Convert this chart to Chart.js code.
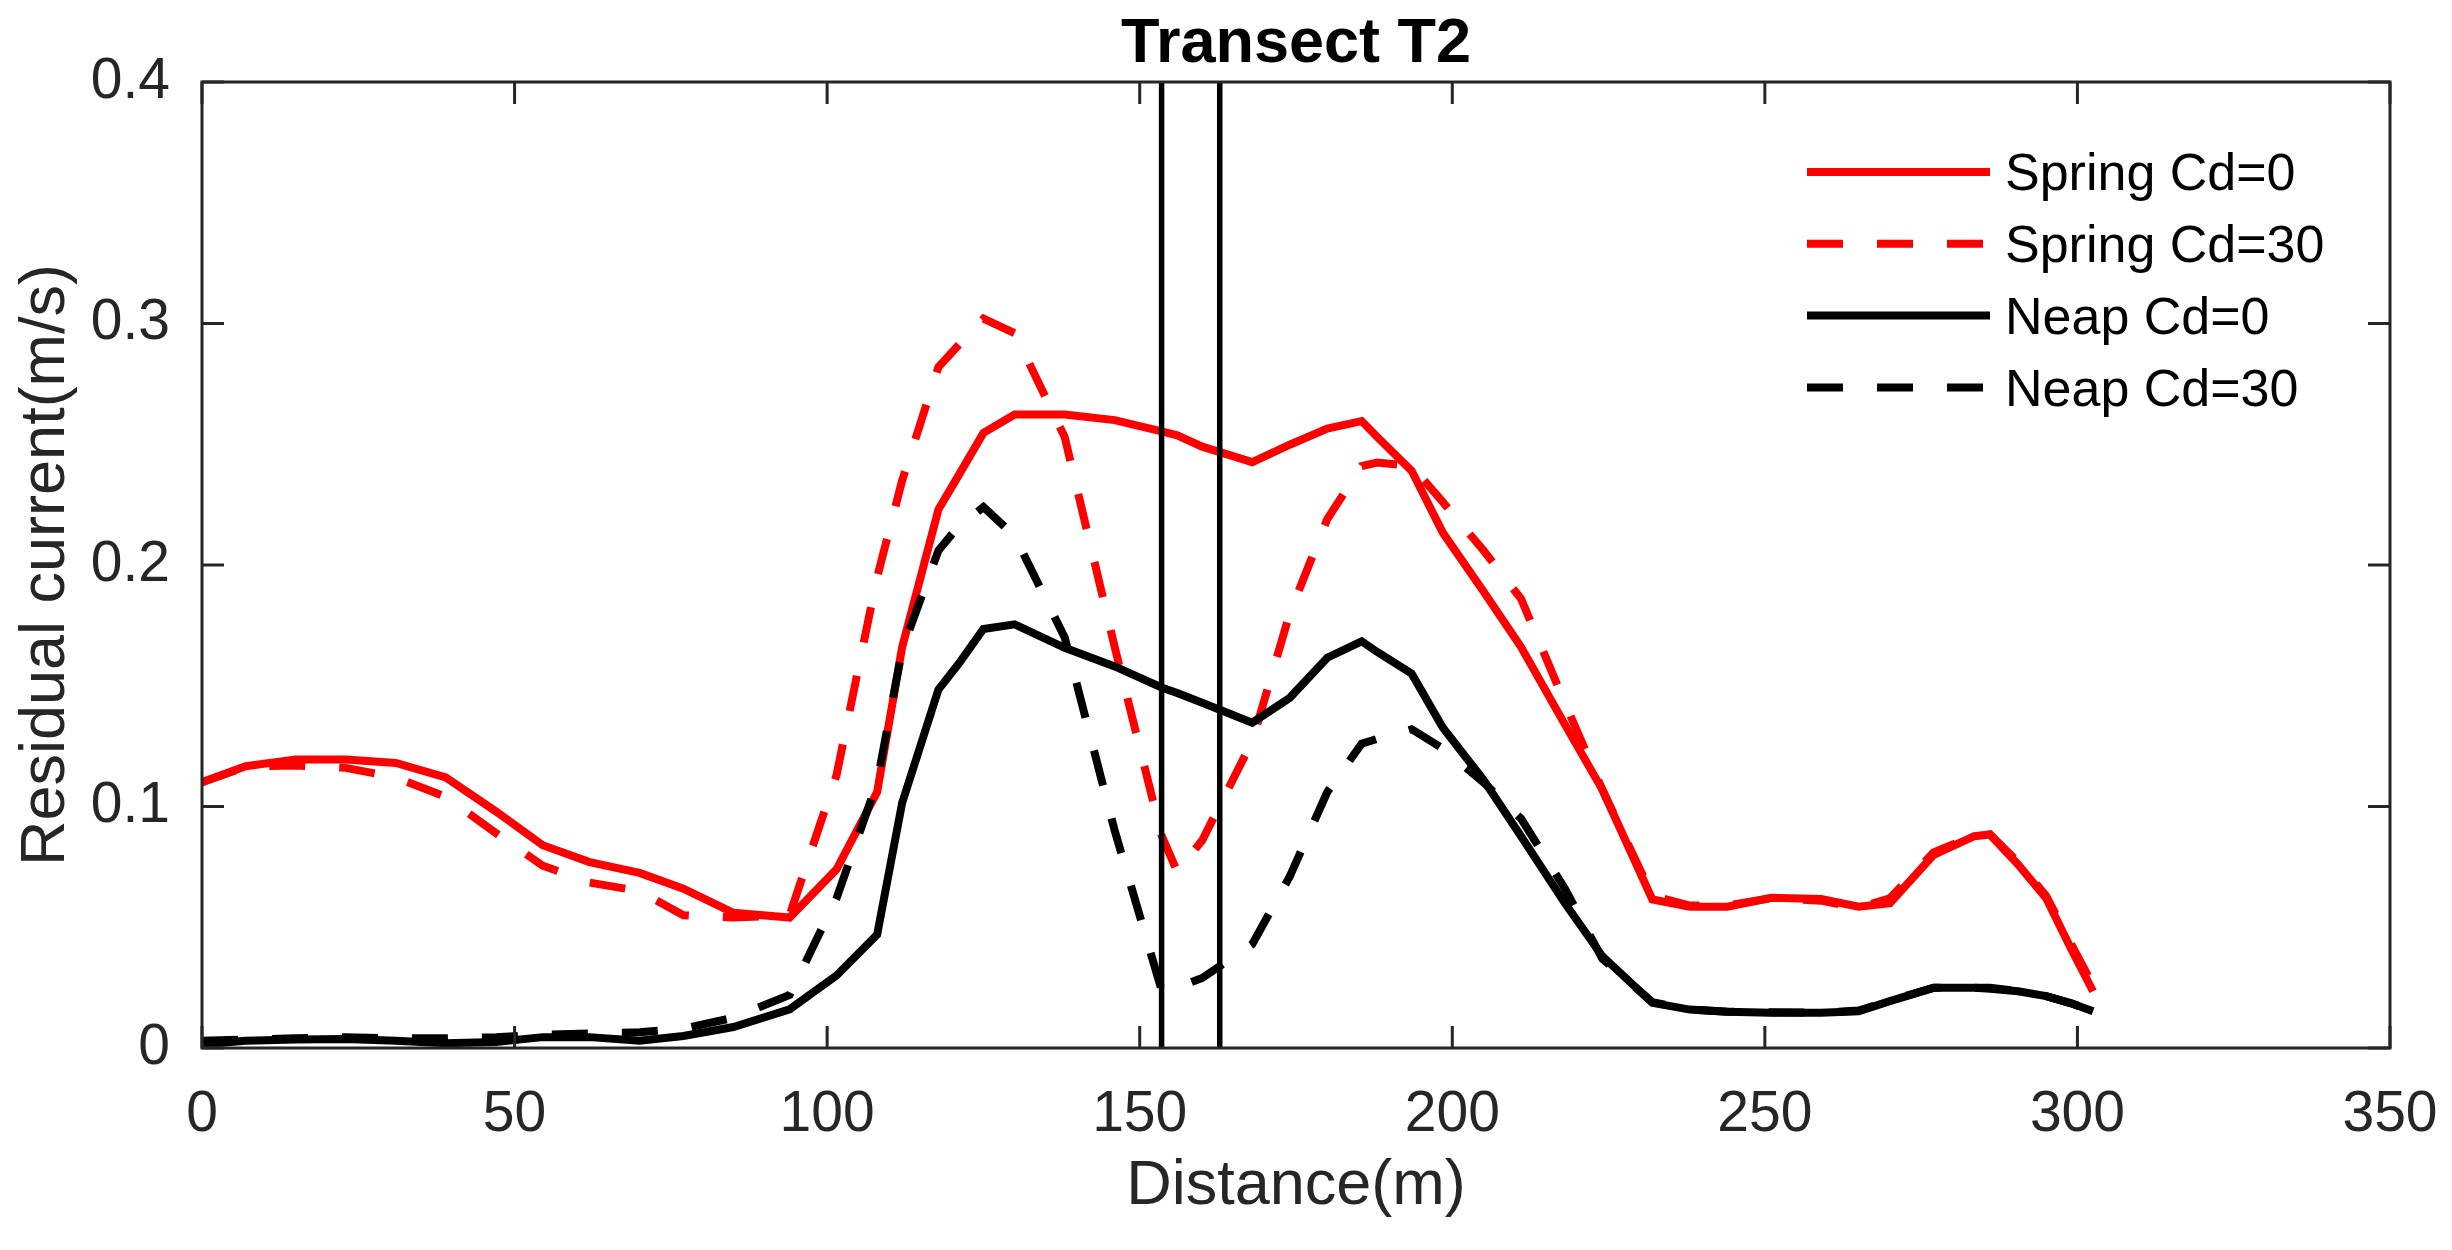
<!DOCTYPE html>
<html>
<head>
<meta charset="utf-8">
<script src="https://cdn.jsdelivr.net/npm/chart.js@4.4.1/dist/chart.umd.min.js"></script>
<style>
  html, body { margin: 0; padding: 0; background: #fff; }
  #wrap { width: 2452px; height: 1250px; }
</style>
</head>
<body>
<div id="wrap"><canvas id="myChart" width="2452" height="1250"></canvas></div>
<script>
// distance along transect (m)
const distance = [0, 7, 15, 23, 31, 39, 47, 54.5, 62, 70,
  77, 85, 94, 101.5, 108, 112, 117.8, 121, 125, 130,
  138, 146, 153.5, 156, 160, 168, 174, 180, 185.5, 188,
  193.5, 198.5, 205, 211, 218, 224, 232, 238, 244, 251,
  259, 265, 270, 277, 283.5, 286, 290.5, 295, 299, 302.5];

const springCd0 = [0.110, 0.1167, 0.1195, 0.1195, 0.118, 0.112, 0.098, 0.084, 0.077, 0.0725,
  0.066, 0.056, 0.054, 0.074, 0.106, 0.166, 0.223, 0.237, 0.2547, 0.2623,
  0.2623, 0.260, 0.2553, 0.2537, 0.249, 0.2426, 0.2498, 0.2565, 0.2596, 0.253,
  0.239, 0.2133, 0.189, 0.166, 0.134, 0.107, 0.0615, 0.0585, 0.0585, 0.0622,
  0.0617, 0.0585, 0.060, 0.080, 0.0877, 0.0884, 0.076, 0.062, 0.041, 0.0235];

const springCd30 = [0.110, 0.1165, 0.117, 0.116, 0.112, 0.104, 0.089, 0.0755, 0.0685, 0.065,
  0.055, 0.054, 0.055, 0.113, 0.195, 0.235, 0.282, 0.291, 0.302, 0.296,
  0.253, 0.166, 0.088, 0.073, 0.086, 0.127, 0.18, 0.219, 0.241, 0.2424,
  0.241, 0.226, 0.206, 0.186, 0.143, 0.107, 0.063, 0.059, 0.059, 0.062,
  0.061, 0.058, 0.062, 0.081, 0.088, 0.0885, 0.077, 0.063, 0.043, 0.026];

const neapCd0 = [0.0015, 0.003, 0.0035, 0.0037, 0.003, 0.002, 0.0025, 0.0045, 0.0045, 0.003,
  0.005, 0.0087, 0.016, 0.030, 0.047, 0.1015, 0.1484, 0.159, 0.1735, 0.1754,
  0.1657, 0.158, 0.1493, 0.147, 0.143, 0.1347, 0.145, 0.1616, 0.1684, 0.164,
  0.155, 0.1326, 0.111, 0.0877, 0.060, 0.038, 0.0187, 0.0159, 0.015, 0.0146,
  0.0146, 0.0152, 0.0194, 0.0249, 0.0249, 0.0245, 0.0235, 0.0215, 0.0185, 0.0152];

const neapCd30 = [0.003, 0.0035, 0.004, 0.0045, 0.004, 0.004, 0.0045, 0.0055, 0.006, 0.0065,
  0.008, 0.0125, 0.022, 0.062, 0.11, 0.165, 0.206, 0.216, 0.224, 0.212,
  0.17, 0.09, 0.024, 0.025, 0.029, 0.043, 0.071, 0.106, 0.126, 0.128,
  0.132, 0.124, 0.110, 0.095, 0.066, 0.037, 0.019, 0.016, 0.015, 0.0148,
  0.0146, 0.0155, 0.0195, 0.025, 0.025, 0.025, 0.0235, 0.0215, 0.0185, 0.0152];

// two vertical marker lines (m)
const boundaryX = [153.5, 162.8];

const seriesNames = ["Spring Cd=0", "Spring Cd=30", "Neap Cd=0", "Neap Cd=30"];
const seriesValues = [springCd0, springCd30, neapCd0, neapCd30];
const seriesColors = ["#ff0000", "#ff0000", "#000000", "#000000"];
const seriesDashed = [false, true, false, true];

const FONT = "'Liberation Sans', Arial, Helvetica, sans-serif";
Chart.defaults.font.family = FONT;

const datasets = seriesValues.map((vals, i) => ({
  label: seriesNames[i],
  data: distance.map((d, k) => ({ x: d, y: vals[k] })),
  borderColor: seriesColors[i],
  borderWidth: 8,
  borderDash: seriesDashed[i] ? [36, 34] : [],
  pointRadius: 0,
  fill: false,
  tension: 0,
  order: 10 - i,
}));

boundaryX.forEach((bx, i) => {
  datasets.push({
    label: "boundary" + i,
    data: [{ x: bx, y: 0 }, { x: bx, y: 0.4 }],
    borderColor: "#000",
    borderWidth: 5.5,
    pointRadius: 0,
    fill: false,
    order: 1,
  });
});

// box round the axes with inward ticks, matlab style
const axesBox = {
  id: "axesBox",
  afterDatasetsDraw(chart) {
    const { ctx, chartArea: a, scales: { x, y } } = chart;
    ctx.save();
    ctx.strokeStyle = "#262626";
    ctx.lineWidth = 3;
    ctx.strokeRect(a.left, a.top, a.right - a.left, a.bottom - a.top);
    ctx.beginPath();
    x.ticks.forEach((t) => {
      const px = x.getPixelForValue(t.value);
      ctx.moveTo(px, a.bottom); ctx.lineTo(px, a.bottom - 22);
      ctx.moveTo(px, a.top); ctx.lineTo(px, a.top + 22);
    });
    y.ticks.forEach((t) => {
      const py = y.getPixelForValue(t.value);
      ctx.moveTo(a.left, py); ctx.lineTo(a.left + 22, py);
      ctx.moveTo(a.right, py); ctx.lineTo(a.right - 22, py);
    });
    ctx.stroke();
    ctx.restore();
  },
};

// legend inside the plot, top right
const boxLegend = {
  id: "boxLegend",
  afterDraw(chart) {
    const { ctx } = chart;
    ctx.save();
    for (let i = 0; i < seriesNames.length; i++) {
      const ds = chart.data.datasets[i];
      const yy = 172 + 71.8 * i;
      ctx.strokeStyle = ds.borderColor;
      ctx.lineWidth = ds.borderWidth;
      ctx.setLineDash(ds.borderDash);
      ctx.lineCap = "butt";
      ctx.beginPath();
      ctx.moveTo(1807, yy);
      ctx.lineTo(seriesDashed[i] ? 1983 : 1990, yy);
      ctx.stroke();
      ctx.setLineDash([]);
      ctx.fillStyle = "#000";
      ctx.font = "52px " + FONT;
      ctx.textBaseline = "middle";
      ctx.textAlign = "left";
      ctx.fillText(seriesNames[i], 2005, yy + 4);
    }
    ctx.restore();
  },
};

new Chart(document.getElementById("myChart"), {
  type: "line",
  data: { datasets },
  options: {
    responsive: false,
    devicePixelRatio: 1,
    animation: false,
    layout: { padding: { left: 0, right: 62, top: 0, bottom: 0 } },
    plugins: {
      legend: { display: false },
      tooltip: { enabled: false },
      title: {
        display: true,
        fullSize: false,
        text: "Transect T2",
        color: "#000",
        font: { size: 63, weight: "bold", lineHeight: 1 },
        padding: { top: 13, bottom: 6 },
      },
    },
    scales: {
      x: {
        type: "linear",
        min: 0,
        max: 350,
        ticks: { stepSize: 50, color: "#262626", font: { size: 57 }, padding: 25, maxRotation: 0 },
        grid: { display: false },
        border: { display: false },
        title: {
          display: true,
          text: "Distance(m)",
          color: "#262626",
          font: { size: 63 },
          padding: { top: 0, bottom: 26 },
        },
        afterFit: (s) => { s.height = 202; s.paddingLeft = 0; s.paddingRight = 0; },
      },
      y: {
        min: 0,
        max: 0.4,
        ticks: {
          stepSize: 0.1,
          color: "#262626",
          font: { size: 57 },
          padding: 24,
          callback: (v) => (v === 0 ? "0" : v.toFixed(1)),
        },
        grid: { display: false },
        border: { display: false },
        title: {
          display: true,
          text: "Residual current(m/s)",
          color: "#262626",
          font: { size: 63 },
          padding: { top: 9, bottom: 0 },
        },
        afterFit: (s) => { s.width = 202; s.paddingTop = 0; s.paddingBottom = 0; },
      },
    },
  },
  plugins: [axesBox, boxLegend],
});
</script>
</body>
</html>
